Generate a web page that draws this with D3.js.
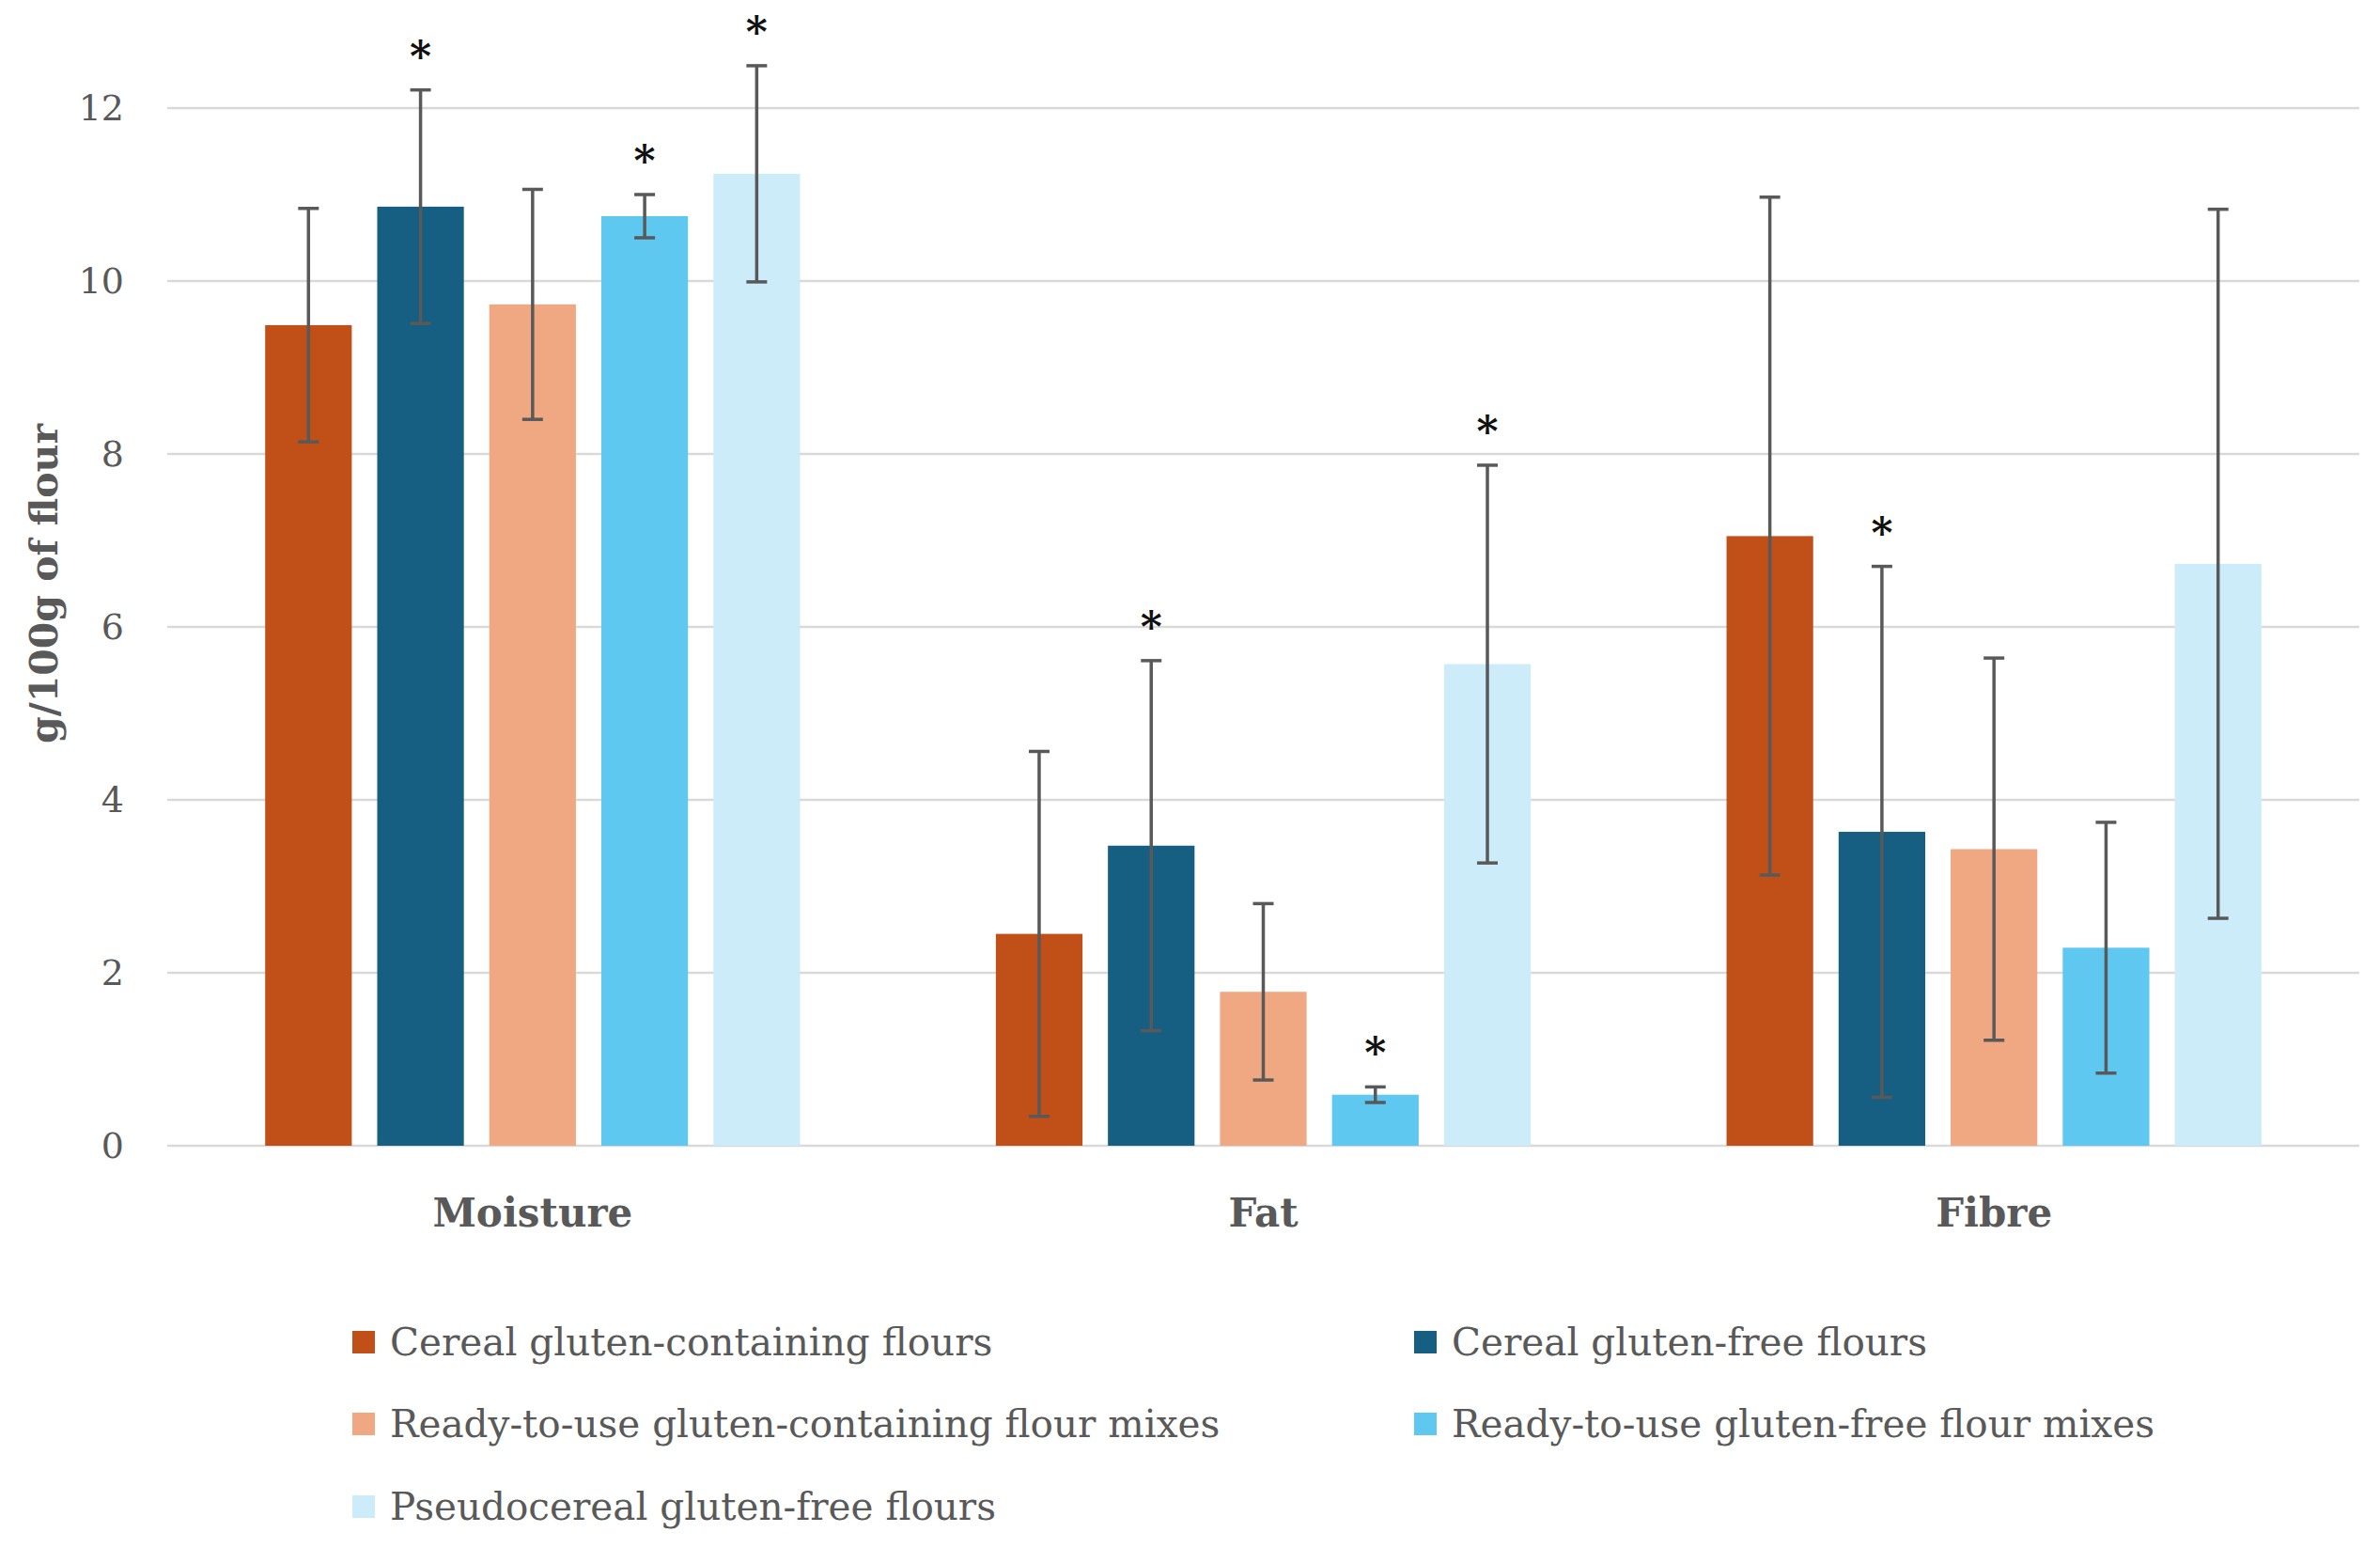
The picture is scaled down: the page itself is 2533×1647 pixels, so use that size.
<!DOCTYPE html>
<html>
<head>
<meta charset="utf-8">
<script src="https://cdn.jsdelivr.net/npm/d3@7"></script>
<style>
  html, body { margin: 0; padding: 0; background: #ffffff; }
  svg { display: block; }
</style>
</head>
<body>
<div id="chart"></div>
<script>
// nutrient categories on the x axis
const categories = ["Moisture", "Fat", "Fibre"];

// flour groups (series)
const seriesNames = [
  "Cereal gluten-containing flours",
  "Cereal gluten-free flours",
  "Ready-to-use gluten-containing flour mixes",
  "Ready-to-use gluten-free flour mixes",
  "Pseudocereal gluten-free flours"
];

// mean values, g/100g of flour (Moisture, Fat, Fibre)
const cerealGlutenMean      = [9.49, 2.45, 7.05];
const cerealFreeMean        = [10.86, 3.47, 3.63];
const mixGlutenMean         = [9.73, 1.78, 3.43];
const mixFreeMean           = [10.75, 0.59, 2.29];
const pseudocerealFreeMean  = [11.24, 5.57, 6.73];

// standard deviations (error bars)
const cerealGlutenSd      = [1.35, 2.11, 3.92];
const cerealFreeSd        = [1.35, 2.14, 3.07];
const mixGlutenSd         = [1.33, 1.02, 2.21];
const mixFreeSd           = [0.25, 0.09, 1.45];
const pseudocerealFreeSd  = [1.25, 2.30, 4.10];

// significance markers (*)
const cerealGlutenSig      = [false, false, false];
const cerealFreeSig        = [true, true, true];
const mixGlutenSig         = [false, false, false];
const mixFreeSig           = [true, true, false];
const pseudocerealFreeSig  = [true, true, false];

// y axis tick labels
const yTicks = [0, 2, 4, 6, 8, 10, 12];

const seriesColors = ["#C05018", "#165E82", "#F0A882", "#5EC8F0", "#CCECFA"];

const means = [cerealGlutenMean, cerealFreeMean, mixGlutenMean, mixFreeMean, pseudocerealFreeMean];
const sds = [cerealGlutenSd, cerealFreeSd, mixGlutenSd, mixFreeSd, pseudocerealFreeSd];
const sigs = [cerealGlutenSig, cerealFreeSig, mixGlutenSig, mixFreeSig, pseudocerealFreeSig];

const W = 2533, H = 1647;
const plot = {left: 178, right: 2511, top: 115, bottom: 1219};
const textGrey = "#595959";
const serif = "'DejaVu Serif', 'Liberation Serif', serif";

const svg = d3.select("#chart").append("svg")
    .attr("width", W)
    .attr("height", H);

const x0 = d3.scaleBand()
    .domain(categories)
    .range([plot.left, plot.right])
    .paddingInner(0.268)
    .paddingOuter(0.134);

const x1 = d3.scaleBand()
    .domain(d3.range(seriesNames.length))
    .range([0, x0.bandwidth()])
    .paddingInner(0.227)
    .paddingOuter(0);

const y = d3.scaleLinear()
    .domain([0, 12])
    .range([plot.bottom, plot.top]);

// gridlines
svg.append("g")
    .selectAll("line")
    .data(yTicks)
    .join("line")
    .attr("x1", plot.left)
    .attr("x2", plot.right)
    .attr("y1", d => y(d))
    .attr("y2", d => y(d))
    .attr("stroke", "#d9d9d9")
    .attr("stroke-width", 2.5);

// y axis labels
const yAxis = svg.append("g")
    .attr("transform", `translate(${plot.left},0)`)
    .call(d3.axisLeft(y).tickValues(yTicks).tickSize(0).tickPadding(46));
yAxis.select(".domain").remove();
yAxis.selectAll("text")
    .attr("font-family", serif)
    .attr("font-size", 38)
    .attr("fill", textGrey);

// y axis title
svg.append("text")
    .attr("transform", "translate(47,621) rotate(-90)")
    .attr("text-anchor", "middle")
    .attr("dominant-baseline", "central")
    .attr("font-family", serif)
    .attr("font-weight", "bold")
    .attr("font-size", 41)
    .attr("fill", textGrey)
    .text("g/100g of flour");

// bars
const rows = [];
seriesNames.forEach((name, si) => {
  categories.forEach((cat, ci) => {
    rows.push({si, cat, mean: means[si][ci], sd: sds[si][ci], sig: sigs[si][ci]});
  });
});

svg.append("g")
    .selectAll("rect")
    .data(rows)
    .join("rect")
    .attr("x", d => x0(d.cat) + x1(d.si))
    .attr("y", d => y(d.mean))
    .attr("width", x1.bandwidth())
    .attr("height", d => y(0) - y(d.mean))
    .attr("fill", d => seriesColors[d.si]);

// error bars
const capHalf = 11;
const err = svg.append("g")
    .attr("stroke", "#595959")
    .attr("stroke-width", 3.5)
    .attr("fill", "none");

rows.forEach(d => {
  const cx = x0(d.cat) + x1(d.si) + x1.bandwidth() / 2;
  const hi = y(d.mean + d.sd), lo = y(d.mean - d.sd);
  err.append("line").attr("x1", cx).attr("x2", cx).attr("y1", hi).attr("y2", lo);
  err.append("line").attr("x1", cx - capHalf).attr("x2", cx + capHalf).attr("y1", hi).attr("y2", hi);
  err.append("line").attr("x1", cx - capHalf).attr("x2", cx + capHalf).attr("y1", lo).attr("y2", lo);
});

// significance asterisks
svg.append("g")
    .selectAll("text")
    .data(rows.filter(d => d.sig))
    .join("text")
    .attr("x", d => x0(d.cat) + x1(d.si) + x1.bandwidth() / 2)
    .attr("y", d => y(d.mean + d.sd) - 20)
    .attr("text-anchor", "middle")
    .attr("font-family", serif)
    .attr("font-weight", "bold")
    .attr("font-size", 44)
    .attr("fill", "#111111")
    .text("*");

// category labels
svg.append("g")
    .selectAll("text")
    .data(categories)
    .join("text")
    .attr("x", d => x0(d) + x0.bandwidth() / 2)
    .attr("y", 1290)
    .attr("text-anchor", "middle")
    .attr("dominant-baseline", "central")
    .attr("font-family", serif)
    .attr("font-weight", "bold")
    .attr("font-size", 42)
    .attr("fill", textGrey)
    .text(d => d);

// legend
const legendCols = [375, 1505];
const legendRows = [1428, 1515, 1603];
const legend = svg.append("g")
    .selectAll("g")
    .data(seriesNames)
    .join("g")
    .attr("transform", (d, i) => `translate(${legendCols[i % 2]},${legendRows[Math.floor(i / 2)]})`);

legend.append("rect")
    .attr("x", 0)
    .attr("y", -12)
    .attr("width", 24)
    .attr("height", 24)
    .attr("fill", (d, i) => seriesColors[i]);

legend.append("text")
    .attr("x", 40)
    .attr("y", 0)
    .attr("dominant-baseline", "central")
    .attr("font-family", serif)
    .attr("font-size", 40.5)
    .attr("fill", textGrey)
    .text(d => d);
</script>
</body>
</html>
